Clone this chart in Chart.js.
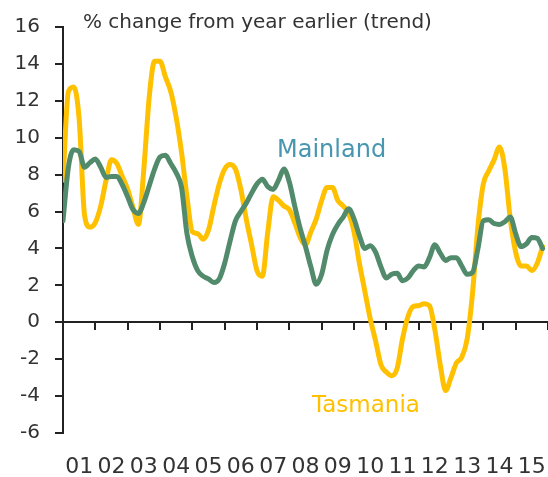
<!DOCTYPE html>
<html>
<head>
<meta charset="utf-8">
<script src="https://cdn.jsdelivr.net/npm/chart.js@4"></script>
<style>
html,body{margin:0;padding:0;background:#fff;}
</style>
</head>
<body>
<canvas id="chart" width="548" height="477"></canvas>
<script>
'use strict';
// year labels under the x axis
let yearLabels=['01','02','03','04','05','06','07','08','09','10','11','12','13','14','15'];
// one point every two months, 2001 to 2015
let periods=[];
for(let y=2001;y<=2015;y++){
  for(let m=0;m<12;m+=2){
    periods.push(y+m/12);
  }
}
// % change from year earlier (trend)
let tasmania=[
  7.7,12.5,12.75,11.0,5.8,5.15,5.4,6.3,7.7,8.8,8.6,7.9,
  7.2,6.2,5.3,8.3,12.2,14.15,14.15,13.3,12.5,11.1,9.2,6.8,
  4.9,4.8,4.5,5.0,6.3,7.5,8.3,8.55,8.3,7.2,5.6,4.2,
  2.8,2.5,4.9,6.8,6.6,6.3,6.1,5.4,4.6,4.2,4.9,5.6,
  6.6,7.3,7.3,6.6,6.3,5.9,4.9,3.2,1.7,0.2,-1.0,-2.3,
  -2.7,-2.9,-2.5,-0.9,0.3,0.85,0.9,1.0,0.9,-0.4,-2.3,-3.7,
  -3.0,-2.2,-1.9,-0.9,1.6,5.2,7.5,8.2,8.8,9.5,8.3,5.6,
  3.8,3.05,3.05,2.8,3.2,4.1
];
let mainland=[
  5.5,8.4,9.35,9.25,8.4,8.65,8.85,8.4,7.85,7.9,7.9,7.45,
  6.8,6.1,5.9,6.5,7.4,8.3,8.95,9.05,8.6,8.1,7.3,4.8,
  3.55,2.8,2.5,2.35,2.15,2.35,3.2,4.4,5.5,6.0,6.45,7.0,
  7.5,7.75,7.35,7.2,7.7,8.3,7.6,6.3,5.1,4.1,3.0,2.06,
  2.6,3.9,4.75,5.3,5.7,6.15,5.6,4.7,4.0,4.15,3.8,3.0,
  2.4,2.6,2.65,2.25,2.4,2.8,3.05,3.0,3.5,4.2,3.75,3.35,
  3.5,3.5,3.05,2.6,2.7,4.0,5.5,5.55,5.35,5.3,5.45,5.7,
  4.8,4.1,4.25,4.6,4.55,4.0
];

let fontName='"DejaVu Sans", sans-serif';
let axisColor='#222';
let textColor='#333';
let yellow='#FFC000';
let green='#528B6C';

// title and series names written on the plot
let textPlugin={
  id:'texts',
  afterDraw(chart){
    let c=chart.ctx;
    c.save();
    c.textAlign='left';
    c.textBaseline='alphabetic';
    c.fillStyle=textColor;
    c.font='20px '+fontName;
    c.fillText('% change from year earlier (trend)',83,28);
    c.fillStyle='#4896AF';
    c.font='24px '+fontName;
    c.fillText('Mainland',277,157);
    c.fillStyle=yellow;
    c.font='23px '+fontName;
    c.fillText('Tasmania',312,412);
    c.restore();
  }
};

// keep the x axes from shrinking the plot for label overflow
function noSidePadding(s){
  s.paddingLeft=0;
  s.paddingRight=0;
}

let ctx=document.getElementById('chart').getContext('2d');
let chart=new Chart(ctx,{
  type:'line',
  data:{
    datasets:[
      {
        label:'Mainland',
        data:periods.map((p,i)=>({x:p,y:mainland[i]})),
        borderColor:green,
        borderWidth:5,
        pointRadius:0,
        cubicInterpolationMode:'monotone',
        borderCapStyle:'round',
        borderJoinStyle:'round'
      },
      {
        label:'Tasmania',
        data:periods.map((p,i)=>({x:p,y:tasmania[i]})),
        borderColor:yellow,
        borderWidth:5,
        pointRadius:0,
        cubicInterpolationMode:'monotone',
        borderCapStyle:'round',
        borderJoinStyle:'round'
      }
    ]
  },
  options:{
    responsive:false,
    animation:false,
    layout:{padding:{top:27,right:0,left:0,bottom:0}},
    plugins:{legend:{display:false},tooltip:{enabled:false}},
    scales:{
      x:{
        type:'linear',
        min:2001,
        max:2016,
        position:{y:0},
        ticks:{display:false,stepSize:1},
        grid:{drawOnChartArea:false,drawTicks:true,tickLength:7,color:axisColor,lineWidth:2},
        border:{display:true,color:axisColor,width:2},
        afterFit(s){s.height=0;noSidePadding(s);}
      },
      xl:{
        type:'category',
        labels:yearLabels,
        position:'bottom',
        offset:true,
        grid:{display:false,drawTicks:false},
        border:{display:false},
        ticks:{autoSkip:false,maxRotation:0,padding:23,color:textColor,font:{family:fontName,size:22,lineHeight:1}},
        afterFit(s){s.height=44;noSidePadding(s);}
      },
      y:{
        min:-6,
        max:16,
        ticks:{stepSize:2,padding:15,color:textColor,font:{family:fontName,size:20}},
        grid:{drawOnChartArea:false,tickLength:8,color:axisColor,lineWidth:2},
        border:{color:axisColor,width:2},
        afterFit(s){s.width=63;}
      }
    }
  },
  plugins:[textPlugin]
});
</script>
</body>
</html>
